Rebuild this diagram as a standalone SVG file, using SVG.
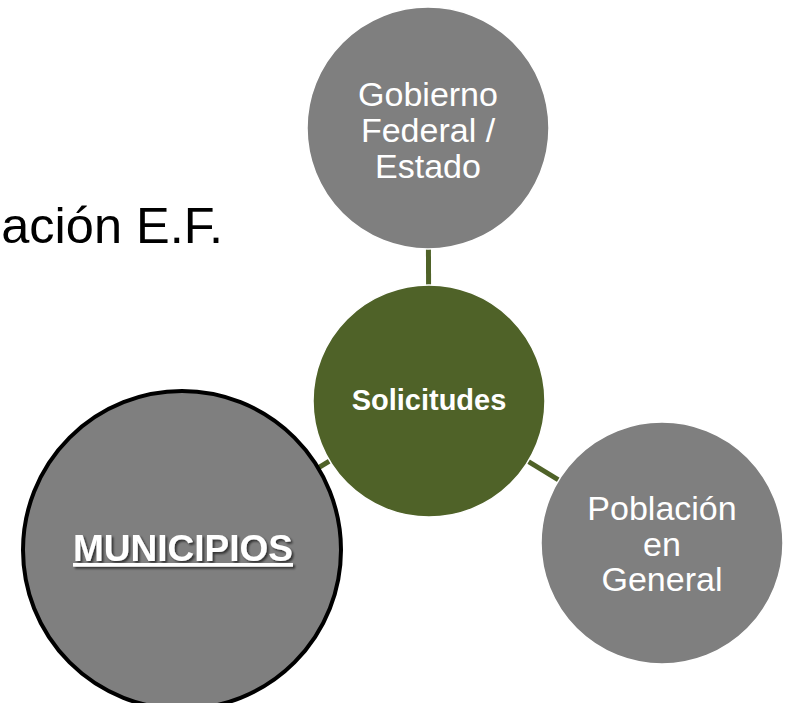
<svg xmlns="http://www.w3.org/2000/svg" width="786" height="703" viewBox="0 0 786 703">
<defs>
<style>
.grey{fill:#7f7f7f;stroke:#ffffff;stroke-width:1.5}
.lbl{font-family:"Liberation Sans",Arial,sans-serif;fill:#ffffff;text-anchor:middle}
.conn{stroke:#4f6228;stroke-width:5;fill:none}
</style>
<filter id="sh" x="-10%" y="-30%" width="130%" height="160%">
<feDropShadow dx="2" dy="2" stdDeviation="1.2" flood-color="#000000" flood-opacity="0.6"/>
</filter>
</defs>
<rect width="786" height="703" fill="#ffffff"/>
<text x="223" y="243" font-family="'Liberation Sans',Arial,sans-serif" font-size="50.5" text-anchor="end" fill="#000000">ación E.F.</text>
<g id="connectors">
<line class="conn" x1="428" y1="128" x2="429" y2="401"/>
<line class="conn" x1="182" y1="550" x2="429" y2="401"/>
<line class="conn" x1="429" y1="401" x2="662" y2="543"/>
</g>
<g id="gobierno">
<circle class="grey" cx="428" cy="128" r="121"/>
<text class="lbl" font-size="34"><tspan x="428" y="106">Gobierno</tspan><tspan x="428" y="142">Federal /</tspan><tspan x="428" y="178">Estado</tspan></text>
</g>
<g id="solicitudes">
<circle cx="429" cy="401" r="116" fill="#4f6228" stroke="#ffffff" stroke-width="1.5"/>
<text class="lbl" x="429" y="410" font-size="29" font-weight="bold">Solicitudes</text>
</g>
<g id="poblacion">
<circle class="grey" cx="662" cy="543" r="121"/>
<text class="lbl" font-size="34"><tspan x="662" y="520">Población</tspan><tspan x="662" y="556">en</tspan><tspan x="662" y="591">General</tspan></text>
</g>
<g id="municipios">
<circle cx="182" cy="550" r="159" fill="#7f7f7f" stroke="#000000" stroke-width="4"/>
<text class="lbl" x="183" y="561" font-size="37" font-weight="bold" text-decoration="underline" filter="url(#sh)">MUNICIPIOS</text>
</g>
</svg>
